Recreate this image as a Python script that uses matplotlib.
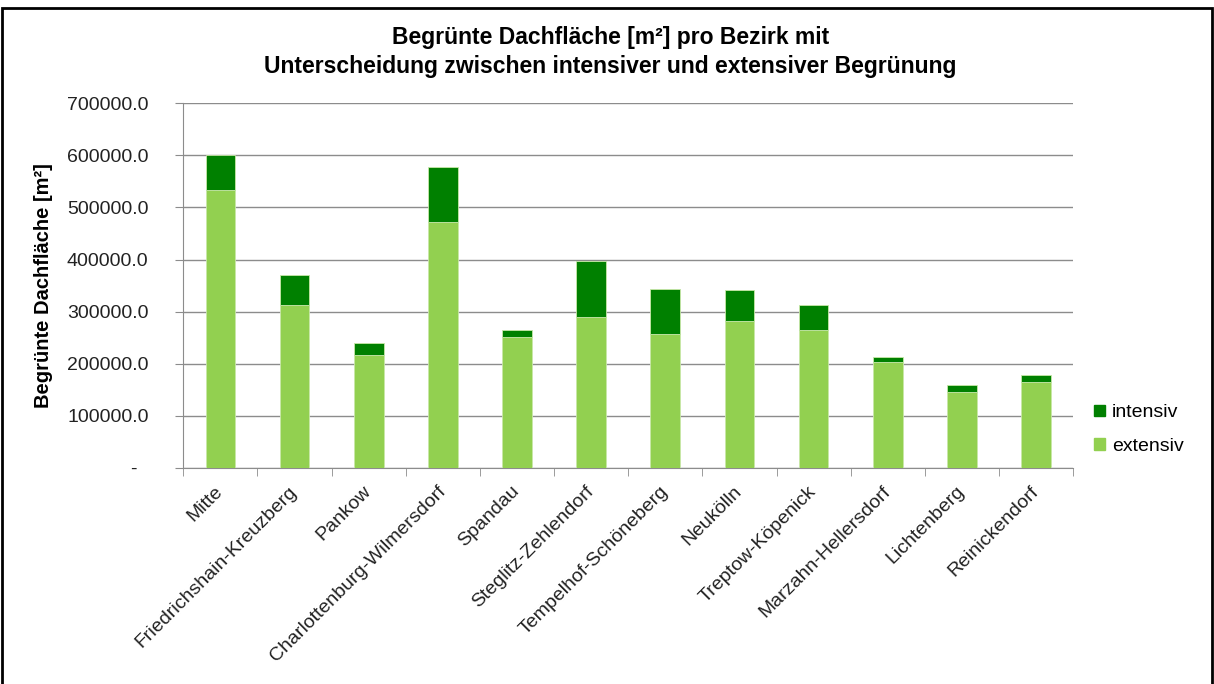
import matplotlib.pyplot as plt
import matplotlib.patches as mpatches
import numpy as np

plt.rcParams['font.family'] = ['Liberation Sans', 'DejaVu Sans']

bezirke = ['Mitte', 'Friedrichshain-Kreuzberg', 'Pankow', 'Charlottenburg-Wilmersdorf',
           'Spandau', 'Steglitz-Zehlendorf', 'Tempelhof-Schöneberg', 'Neukölln',
           'Treptow-Köpenick', 'Marzahn-Hellersdorf', 'Lichtenberg', 'Reinickendorf']
extensiv = [533000, 313000, 216000, 472000, 252000, 289000, 257000, 282000,
            265000, 203000, 146000, 164000]
intensiv = [67000, 58000, 24000, 106000, 12500, 108000, 86000, 59000,
            48000, 9500, 12500, 13500]
yticks = [0, 100000, 200000, 300000, 400000, 500000, 600000, 700000]

c_ext = '#92D050'
c_int = '#008000'

fig = plt.figure(figsize=(12.14, 6.84), dpi=100)
ax = fig.add_axes([0.151, 0.316, 0.733, 0.533])

x = np.arange(len(bezirke))
ax.bar(x, extensiv, width=0.4, color=c_ext, edgecolor='#c8e8a8', linewidth=0.6, zorder=3)
ax.bar(x, intensiv, width=0.4, bottom=extensiv, color=c_int, edgecolor='#c8e8a8',
       linewidth=0.6, zorder=3)

ax.set_xlim(-0.5, len(bezirke) - 0.5)
ax.set_ylim(0, 700000)
ax.set_yticks(yticks)
ax.set_yticklabels([f'{v:.1f}' if v else '-  ' for v in yticks], fontsize=14, color='#222222')
ax.yaxis.grid(True, color='#8c8c8c', linewidth=1, zorder=0)
ax.tick_params(axis='y', length=6, color='#8c8c8c', pad=19)

ax.set_xticks(x)
ax.set_xticklabels(bezirke, rotation=45, ha='right', va='center', rotation_mode='anchor',
                   fontsize=14, color='#222222')
ax.tick_params(axis='x', which='major', length=0, pad=15)
ax.set_xticks(np.arange(-0.5, len(bezirke), 1), minor=True)
ax.tick_params(axis='x', which='minor', length=6, color='#8c8c8c')

for s in ['top', 'right']:
    ax.spines[s].set_visible(False)
for s in ['left', 'bottom']:
    ax.spines[s].set_color('#8c8c8c')

ax.set_ylabel('Begrünte Dachfläche [m²]', fontsize=14.5, fontweight='bold')
ax.yaxis.set_label_coords(-0.147, 0.5)

fig.text(0.503, 0.945, 'Begrünte Dachfläche [m²] pro Bezirk mit', ha='center', va='center',
         fontsize=16.5, fontweight='bold')
fig.text(0.503, 0.903, 'Unterscheidung zwischen intensiver und extensiver Begrünung',
         ha='center', va='center', fontsize=16.5, fontweight='bold')

handles = [mpatches.Patch(color=c_int, label='intensiv'),
           mpatches.Patch(color=c_ext, label='extensiv')]
fig.legend(handles=handles, loc='center left', bbox_to_anchor=(0.887, 0.372), frameon=False,
           fontsize=14, handlelength=0.55, handleheight=0.55, handletextpad=0.35,
           labelspacing=0.85)

fig.patches.append(mpatches.Rectangle((2 / 1214, -0.01), 1210 / 1214, 1 - 8 / 684 + 0.01,
                                      transform=fig.transFigure, fill=False,
                                      edgecolor='black', linewidth=2))

fig.savefig('out.png', dpi=100)
